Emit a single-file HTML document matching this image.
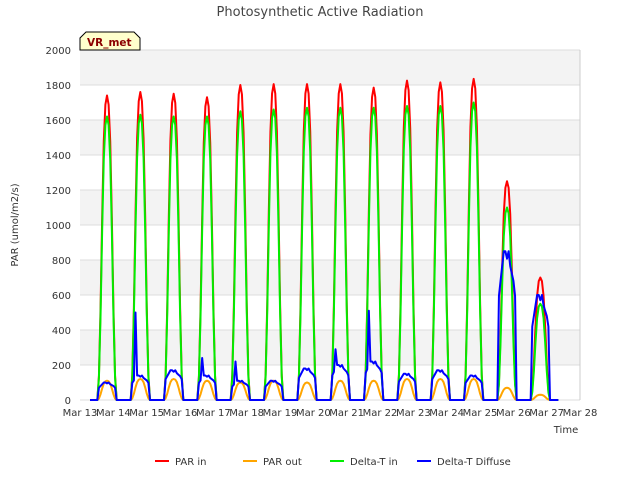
<!DOCTYPE html>
<html><head><meta charset="utf-8"><style>
body{margin:0;background:#fff;font-family:"DejaVu Sans","Liberation Sans",sans-serif;}
svg text{font-family:"DejaVu Sans","Liberation Sans",sans-serif;}
</style></head><body>
<svg id="c" width="640" height="480">
<text x="320" y="16" text-anchor="middle" font-size="13" fill="#444">Photosynthetic Active Radiation</text>
<g id="bands"></g><g id="grid"></g><g id="series"></g><g id="axes"></g>
<g>
<path d="M80,50 L80,38 L86,32 L134,32 L140,38 L140,50 Z" fill="#ffffcc" stroke="#000" stroke-width="1"/>
<text x="87" y="46" font-size="10.5" font-weight="bold" fill="#8b0000">VR_met</text></g>
<text transform="translate(18,225) rotate(-90)" text-anchor="middle" font-size="10" fill="#333">PAR (umol/m2/s)</text>
<text x="566" y="433" text-anchor="middle" font-size="10" fill="#333">Time</text>
<g id="legend"></g>
</svg>
<script>
const days=[13,14,15,16,17,18,19,20,21,22,23,24,25,26];
const parIn=[1740,1760,1750,1730,1800,1805,1805,1805,1785,1825,1815,1835,1250,700];
const parOut=[110,120,120,110,100,110,100,110,110,120,120,120,70,30];
const deltaIn=[1620,1630,1620,1620,1650,1660,1670,1670,1670,1680,1680,1700,1100,550];
const diffuse=[100,140,170,140,110,110,180,200,220,150,170,140,850,600];
const diffSpike=[0,500,0,240,220,0,0,290,510,0,0,0,0,0];
const profile=[0,0.08,0.3,0.6,0.85,0.97,1,0.97,0.85,0.6,0.3,0.08,0];
const diffProfile=[0,0.7,0.8,0.9,1,1,0.95,1,0.9,0.85,0.8,0.7,0];
const yTicks=[0,200,400,600,800,1000,1200,1400,1600,1800,2000];
const xTicks=["Mar 13","Mar 14","Mar 15","Mar 16","Mar 17","Mar 18","Mar 19","Mar 20","Mar 21","Mar 22","Mar 23","Mar 24","Mar 25","Mar 26","Mar 27","Mar 28"];
const NS="http://www.w3.org/2000/svg";
const L=80,R=580,T=50,B=400;
const x=t=>L+(t-13)*(R-L)/15;
const y=v=>B-v*(B-T)/2000;
function mk(tag,at,par){const e=document.createElementNS(NS,tag);for(const k in at)e.setAttribute(k,at[k]);document.getElementById(par).appendChild(e);return e;}
for(let i=0;i<yTicks.length-1;i++){if(i%2==1){const r=mk('rect',{x:L,y:y(yTicks[i+1]),width:R-L,height:y(yTicks[i])-y(yTicks[i+1]),fill:'#f3f3f3'},'bands');

}}
yTicks.forEach(v=>{const g=mk('line',{x1:L,x2:R,y1:y(v),y2:y(v),stroke:'#dcdcdc'},'grid');


const t=mk('text',{x:L-9,y:y(v)+4,'text-anchor':'end','font-size':10,fill:'#333'},'axes');t.textContent=v;

});
mk('line',{x1:R,x2:R,y1:T,y2:B,stroke:'#ccc'},'grid');
xTicks.forEach((s,i)=>{const t=mk('text',{x:x(13+i),y:B+16,'text-anchor':'middle','font-size':10,fill:'#333'},'axes');t.textContent=s;

});
function build(peaks,prof,spikes){const pts=[[x(13.3),y(0)]];
days.forEach((d,i)=>{const s=d+0.52,e=d+1.1,n=prof.length-1;
for(let k=0;k<=n;k++){let v=peaks[i]*prof[k];if(spikes&&spikes[i]&&k==3)v=spikes[i];pts.push([x(s+(e-s)*k/n),y(v)]);}});
pts.push([x(27.35),y(0)]);return pts.map(p=>p.join(',')).join(' ');}
const ser=[['par-in-line',parIn,profile,null,'#ff0000'],['par-out-line',parOut,profile,null,'#ffa500'],['delta-t-in-line',deltaIn,profile,null,'#00ee00'],['delta-t-diffuse-line',diffuse,diffProfile,diffSpike,'#0000ff']];
ser.forEach(s=>{const p=mk('polyline',{points:build(s[1],s[2],s[3]),fill:'none',stroke:s[4],'stroke-width':2,'stroke-linejoin':'round'},'series');

});
const leg=[['PAR in','#ff0000',155],['PAR out','#ffa500',243],['Delta-T in','#00ee00',330],['Delta-T Diffuse','#0000ff',417]];
leg.forEach(l=>{mk('line',{x1:l[2],x2:l[2]+14,y1:461,y2:461,stroke:l[1],'stroke-width':2},'legend');
const t=mk('text',{x:l[2]+20,y:465,'font-size':10,fill:'#333'},'legend');t.textContent=l[0];

});
</script>
</body></html>
